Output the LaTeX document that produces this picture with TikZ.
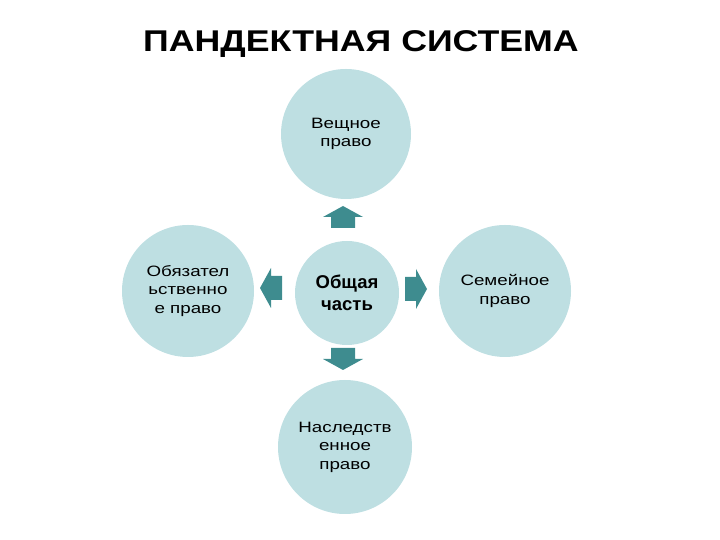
\documentclass[tikz,border=0pt]{standalone}
\usepackage{fontspec}
\setmainfont{Liberation Sans}
\newfontfamily\titlefont[FakeStretch=1.19]{Liberation Sans}
\newfontfamily\circfont[FakeStretch=1.25]{Liberation Sans}
\begin{document}
\begin{tikzpicture}[x=1pt,y=1pt,
  circ/.style={circle,fill=circfill,draw=none,inner sep=0pt,align=center,font=\circfont\fontsize{15}{18.5}\selectfont},
  blockarrow/.pic={\fill[arrowfill] (-11,-12) -- (0,-12) -- (0,-20) -- (11,0) -- (0,20) -- (0,12) -- (-11,12) -- cycle;}]
\definecolor{circfill}{HTML}{BEDFE2}
\definecolor{arrowfill}{HTML}{3E8C8F}
\useasboundingbox (0,0) rectangle (720,540);
\node[font=\titlefont\bfseries\fontsize{30}{36}\selectfont] (title) at (361,496) {ПАНДЕКТНАЯ СИСТЕМА};
\node[circ,minimum size=130] (top) at (346,406) {Вещное\\право};
\node[circ,minimum size=104,font=\bfseries\fontsize{18.5}{22}\selectfont] (mid) at (347,247) {Общая\\часть};
\node[circ,minimum size=132] (left) at (188,249) {Обязател\\ьственно\\е право};
\node[circ,minimum size=132] (right) at (505,249) {Семейное\\право};
\node[circ,minimum size=134] (bot) at (345,93) {Наследств\\енное\\право};
\pic[rotate=90] (aup) at (343,323) {blockarrow};
\pic[rotate=180] (aleft) at (271,252) {blockarrow};
\pic (aright) at (416,251) {blockarrow};
\pic[rotate=-90] (adown) at (343,181) {blockarrow};
\end{tikzpicture}
\end{document}
